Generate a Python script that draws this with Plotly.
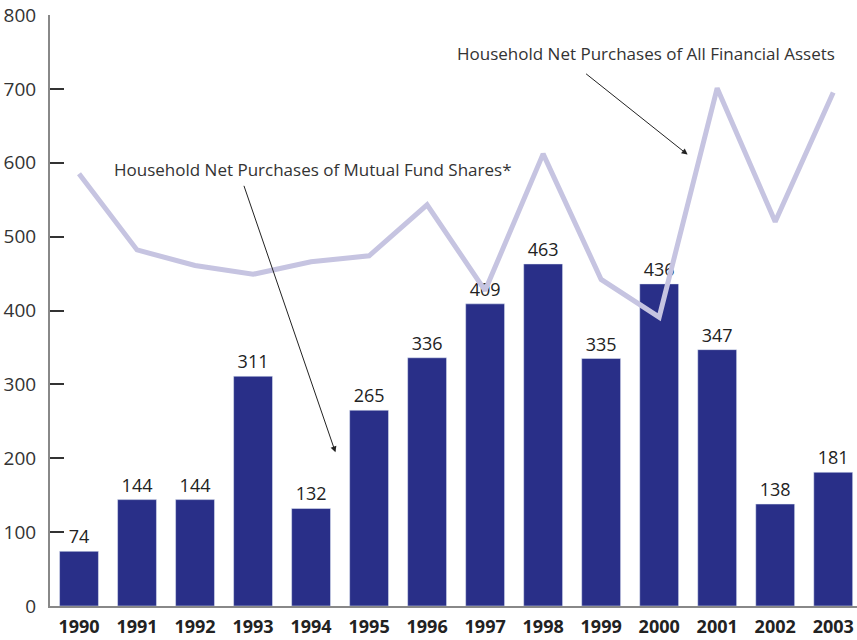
import plotly.graph_objects as go

years = ["1990", "1991", "1992", "1993", "1994", "1995", "1996", "1997",
         "1998", "1999", "2000", "2001", "2002", "2003"]
mutual_fund = [74, 144, 144, 311, 132, 265, 336, 409, 463, 335, 436, 347, 138, 181]
all_assets = [585, 482, 461, 449, 466, 474, 543, 427, 612, 442, 391, 701, 520, 695]
y_ticks = [0, 100, 200, 300, 400, 500, 600, 700, 800]

FONT = "Open Sans, Noto Sans, sans-serif"

fig = go.Figure()
fig.add_trace(go.Bar(
    x=years, y=mutual_fund, marker_color="#292f88", width=0.67,
    text=[str(v) for v in mutual_fund], textposition="outside",
    textfont=dict(family=FONT, size=18, color="#222222"), cliponaxis=False,
))
fig.add_trace(go.Scatter(
    x=years, y=all_assets, mode="lines",
    line=dict(color="#c6c4e1", width=5),
))

fig.add_annotation(x=9.77, y=748, xref="x", yref="y", showarrow=False,
                   text="Household Net Purchases of All Financial Assets",
                   font=dict(family=FONT, size=17, color="#333333"))
fig.add_annotation(x=10.49, y=611, xref="x", yref="y", text="", showarrow=True,
                   ax=-103, ay=-82, arrowhead=2, arrowsize=1.2, arrowwidth=1,
                   arrowcolor="#222222")
fig.add_annotation(x=4.03, y=591, xref="x", yref="y", showarrow=False,
                   text="Household Net Purchases of Mutual Fund Shares*",
                   font=dict(family=FONT, size=17, color="#333333"))
fig.add_annotation(x=4.42, y=208, xref="x", yref="y", text="", showarrow=True,
                   ax=-92, ay=-268, arrowhead=2, arrowsize=1.2, arrowwidth=1,
                   arrowcolor="#222222")

fig.update_layout(
    width=857, height=640,
    margin=dict(l=50, r=0, t=15, b=34, autoexpand=False),
    plot_bgcolor="white", paper_bgcolor="white",
    showlegend=False, bargap=0.33,
    font=dict(family=FONT, color="#333333"),
)
fig.update_xaxes(
    type="category", range=[-0.5, 13.41],
    showline=True, linecolor="#888888", linewidth=2,
    ticks="", showgrid=False,
    tickfont=dict(family=FONT, size=18, color="#222222", weight="bold"),
    ticklabelstandoff=3,
)
fig.update_yaxes(
    range=[0, 800], tickvals=y_ticks,
    showline=True, linecolor="#888888", linewidth=2,
    ticks="inside", ticklen=14, tickcolor="#333333", tickwidth=1.5,
    showgrid=False, zeroline=False,
    tickfont=dict(family=FONT, size=19, color="#333333"),
    ticklabelstandoff=8,
)

fig.write_html("out.html", config={"displayModeBar": False},
               post_script="document.body.style.margin='0';document.body.style.overflow='hidden';")
